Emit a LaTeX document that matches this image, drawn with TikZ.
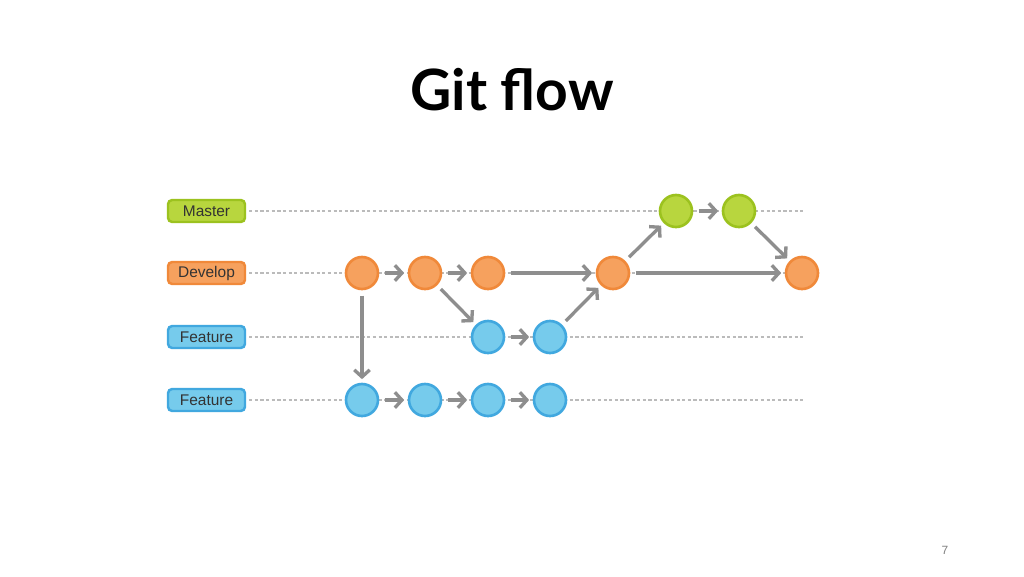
\documentclass[tikz,border=0pt]{standalone}
\usepackage{fontspec}
\setmainfont{Liberation Sans}
\newfontfamily\titlefont{Lato}
\usetikzlibrary{arrows.meta}
\definecolor{mastfill}{HTML}{B8D63E}
\definecolor{mastline}{HTML}{9CC21F}
\definecolor{devfill}{HTML}{F6A15E}
\definecolor{devline}{HTML}{F0893A}
\definecolor{featfill}{HTML}{76CBEC}
\definecolor{featline}{HTML}{41A8DF}
\definecolor{arrowgray}{HTML}{8E8E8E}
\definecolor{labeltext}{HTML}{333333}

\begin{document}
\begin{tikzpicture}[
  branch/.style={draw, line width=0.7pt, rounded corners=1.2pt, minimum width=0.77cm,
    minimum height=0.22cm, inner sep=0pt, text=labeltext, font=\fontsize{4.4}{5}\selectfont},
  commit/.style={circle, draw, line width=0.75pt, minimum size=0.32cm, inner sep=0pt},
  track/.style={arrowgray!60, line width=0.3pt, dash pattern=on 0.9pt off 0.7pt},
  flow/.style={arrowgray, line width=0.95pt, -{Straight Barb[length=2pt,width=4.4pt]},
    shorten <=1.5pt, shorten >=1pt}]

\useasboundingbox [fill=white] (0,0) rectangle (10.24,5.76) ;

\node (title) at (5.12,4.86) {\titlefont\bfseries\fontsize{16.2}{19}\selectfont Git flow} ;
\node [text=gray, font=\fontsize{3.4}{4}\selectfont] (page) at (9.45,0.26) {7} ;

%branch labels
\node [branch, fill=mastfill, draw=mastline] (lmaster) at (2.065,3.65) {Master} ;
\node [branch, fill=devfill, draw=devline] (ldevelop) at (2.065,3.03) {Develop} ;
\node [branch, fill=featfill, draw=featline] (lfeatA) at (2.065,2.39) {Feature} ;
\node [branch, fill=featfill, draw=featline] (lfeatB) at (2.065,1.76) {Feature} ;

\coordinate (emaster) at (8.03,3.65) ;
\coordinate (edevelop) at (8.03,3.03) ;
\coordinate (efeatA) at (8.03,2.39) ;
\coordinate (efeatB) at (8.03,1.76) ;

\draw [track] (lmaster.east) ++(0.03,0) -- (emaster) ;
\draw [track] (ldevelop.east) ++(0.03,0) -- (edevelop) ;
\draw [track] (lfeatA.east) ++(0.03,0) -- (efeatA) ;
\draw [track] (lfeatB.east) ++(0.03,0) -- (efeatB) ;

%commits
\node [commit, fill=devfill, draw=devline] (d1) at (3.62,3.03) {} ;
\node [commit, fill=devfill, draw=devline] (d2) at (4.25,3.03) {} ;
\node [commit, fill=devfill, draw=devline] (d3) at (4.88,3.03) {} ;
\node [commit, fill=devfill, draw=devline] (d4) at (6.13,3.03) {} ;
\node [commit, fill=devfill, draw=devline] (d5) at (8.02,3.03) {} ;

\node [commit, fill=mastfill, draw=mastline] (m1) at (6.76,3.65) {} ;
\node [commit, fill=mastfill, draw=mastline] (m2) at (7.39,3.65) {} ;

\node [commit, fill=featfill, draw=featline] (a1) at (4.88,2.39) {} ;
\node [commit, fill=featfill, draw=featline] (a2) at (5.50,2.39) {} ;

\node [commit, fill=featfill, draw=featline] (b1) at (3.62,1.76) {} ;
\node [commit, fill=featfill, draw=featline] (b2) at (4.25,1.76) {} ;
\node [commit, fill=featfill, draw=featline] (b3) at (4.88,1.76) {} ;
\node [commit, fill=featfill, draw=featline] (b4) at (5.50,1.76) {} ;

%history
\draw [flow] (d1) -- (d2) ;
\draw [flow] (d2) -- (d3) ;
\draw [flow] (d3) -- (d4) ;
\draw [flow] (d4) -- (d5) ;
\draw [flow] (d2) -- (a1) ;
\draw [flow] (a1) -- (a2) ;
\draw [flow] (a2) -- (d4) ;
\draw [flow] (d4) -- (m1) ;
\draw [flow] (m1) -- (m2) ;
\draw [flow] (m2) -- (d5) ;
\draw [flow] (d1) -- (b1) ;
\draw [flow] (b1) -- (b2) ;
\draw [flow] (b2) -- (b3) ;
\draw [flow] (b3) -- (b4) ;

\end{tikzpicture}
\end{document}
